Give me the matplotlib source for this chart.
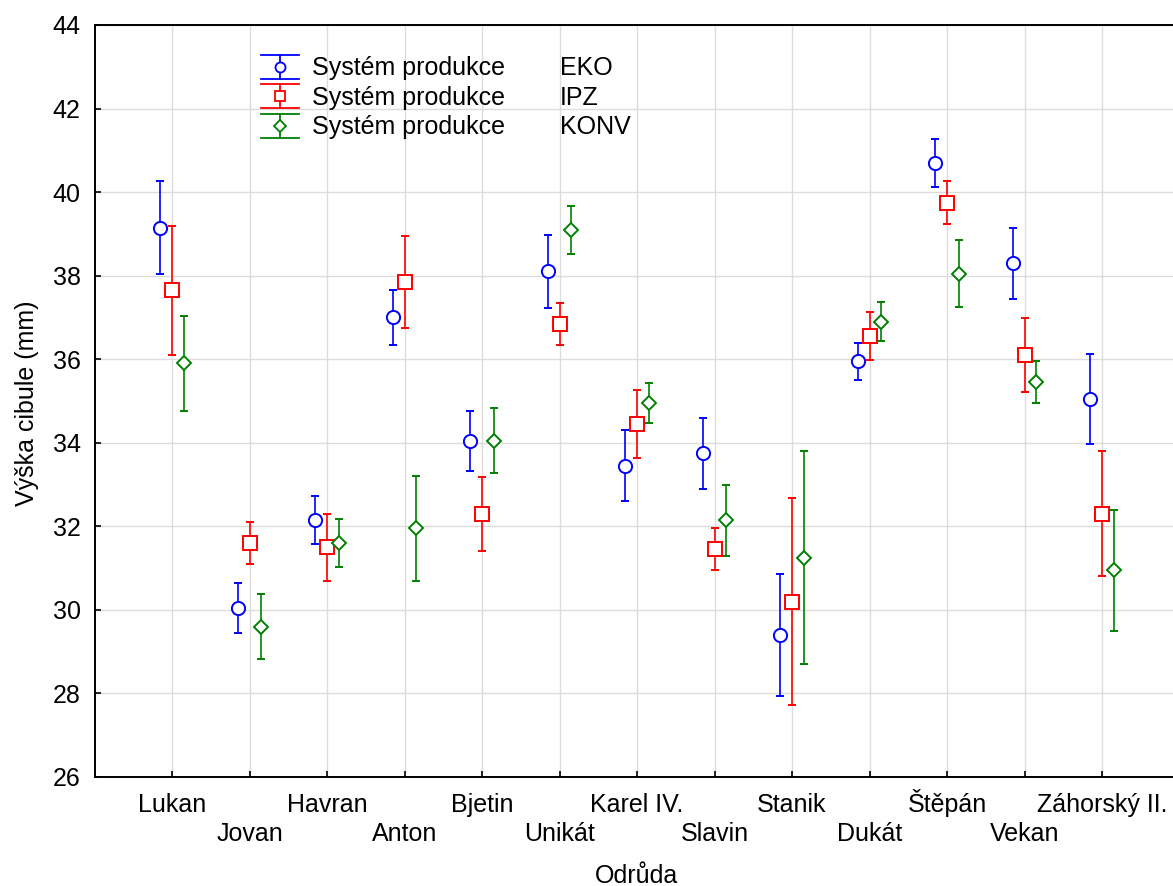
import matplotlib
matplotlib.use("Agg")
import matplotlib.pyplot as plt
from matplotlib.legend_handler import HandlerBase
from matplotlib.lines import Line2D
import numpy as np

plt.rcParams['font.family'] = ['Liberation Sans', 'DejaVu Sans']

varieties = ["Lukan", "Jovan", "Havran", "Anton", "Bjetin", "Unikát", "Karel IV.",
             "Slavin", "Stanik", "Dukát", "Štěpán", "Vekan", "Záhorský II."]

eko_mean = [39.15, 30.05, 32.15, 37.0, 34.05, 38.1, 33.45, 33.75, 29.4, 35.95, 40.7, 38.3, 35.05]
eko_err = [1.12, 0.6, 0.58, 0.65, 0.72, 0.87, 0.85, 0.85, 1.45, 0.45, 0.58, 0.85, 1.08]

ipz_mean = [37.65, 31.6, 31.5, 37.85, 32.3, 36.85, 34.45, 31.45, 30.2, 36.55, 39.75, 36.1, 32.3]
ipz_err = [1.55, 0.5, 0.8, 1.1, 0.88, 0.5, 0.82, 0.5, 2.48, 0.57, 0.52, 0.88, 1.5]

konv_mean = [35.9, 29.6, 31.6, 31.95, 34.05, 39.1, 34.95, 32.15, 31.25, 36.9, 38.05, 35.45, 30.95]
konv_err = [1.13, 0.77, 0.57, 1.25, 0.78, 0.57, 0.48, 0.85, 2.55, 0.47, 0.8, 0.5, 1.45]

series_names = ["EKO", "IPZ", "KONV"]
series_means = [eko_mean, ipz_mean, konv_mean]
series_errs = [eko_err, ipz_err, konv_err]
series_colors = ["#0000ff", "#ff0000", "#008000"]
series_markers = ["o", "s", "D"]
series_offsets = [-0.15, 0.0, 0.15]
legend_prefix = "Systém produkce"

FS = 18
W, H = 1173, 886
fig = plt.figure(figsize=(W / 100, H / 100), dpi=100)
left = 94.5 / W
right = 1179.5 / W
bottom = 1 - 777 / H
top = 1 - 25 / H
ax = fig.add_axes([left, bottom, right - left, top - bottom])

x = np.arange(1, len(varieties) + 1)
for m, e, c, mk, off in zip(series_means, series_errs, series_colors, series_markers, series_offsets):
    ms = 9.5 if mk != "D" else 7.5
    ax.errorbar(x + off, m, yerr=e, fmt=mk, color=c, mfc="white", mec=c,
                ms=ms, mew=1.4, elinewidth=1.2, capsize=3, capthick=1.2, zorder=3)

ax.set_xlim(0, 14)
ax.set_ylim(26, 44)
ax.set_yticks(np.arange(26, 45, 2))
ax.set_xticks(x)
ax.set_xticklabels([""] * len(varieties))
ax.grid(True, color="#dcdcdc", linewidth=1.0, zorder=0)
ax.set_axisbelow(True)
ax.tick_params(direction="in", length=4, width=1.2, labelsize=FS, pad=10)
for s in ax.spines.values():
    s.set_linewidth(1.4)

# category labels in two staggered rows, aligned on baseline
tr = ax.get_xaxis_transform()
for i, v in enumerate(x):
    yb = (777 - 812) / 752 if i % 2 == 0 else (777 - 841) / 752
    ax.text(v, yb, varieties[i], transform=tr, ha="center", va="baseline",
            fontsize=FS, clip_on=False)

fig.text(636 / W, 1 - 883 / H, "Odrůda", ha="center", va="baseline", fontsize=FS)
fig.text(27 / W, 1 - 403 / H, "Výška cibule (mm)", ha="center", va="center",
         rotation=90, fontsize=FS)


class ErrHandler(HandlerBase):
    def create_artists(self, legend, orig_handle, xdescent, ydescent, width, height,
                       fontsize, trans):
        c, mk = orig_handle
        x0 = -xdescent
        x1 = x0 + width
        xc = (x0 + x1) / 2
        yc = -ydescent + height / 2
        hh = 8.6
        arts = [
            Line2D([xc, xc], [yc - hh, yc + hh], color=c, lw=1.3),
            Line2D([x0, x1], [yc + hh, yc + hh], color=c, lw=1.3),
            Line2D([x0, x1], [yc - hh, yc - hh], color=c, lw=1.3),
            Line2D([xc], [yc], marker=mk, ms=7.2 if mk != "D" else 5.8, mfc="white",
                   mec=c, mew=1.3, ls="none"),
        ]
        for a in arts:
            a.set_transform(trans)
        return arts


handles = [(c, mk) for c, mk in zip(series_colors, series_markers)]
leg = fig.legend(handles=handles, labels=[legend_prefix] * 3,
                 handler_map={tuple: ErrHandler()},
                 loc="upper left", bbox_to_anchor=(261 / W, 1 - 56 / H),
                 frameon=False, fontsize=FS, handlelength=1.52, handleheight=0.96,
                 handletextpad=0.52, labelspacing=0.2, borderpad=0, borderaxespad=0)
fig.canvas.draw()
for t, name in zip(leg.get_texts(), series_names):
    bb = t.get_window_extent()
    yc = (bb.y0 + bb.y1) / 2
    fig.text(560 / W, yc / H, name, fontsize=FS, va="center", ha="left")

fig.savefig("out.png", dpi=100)
